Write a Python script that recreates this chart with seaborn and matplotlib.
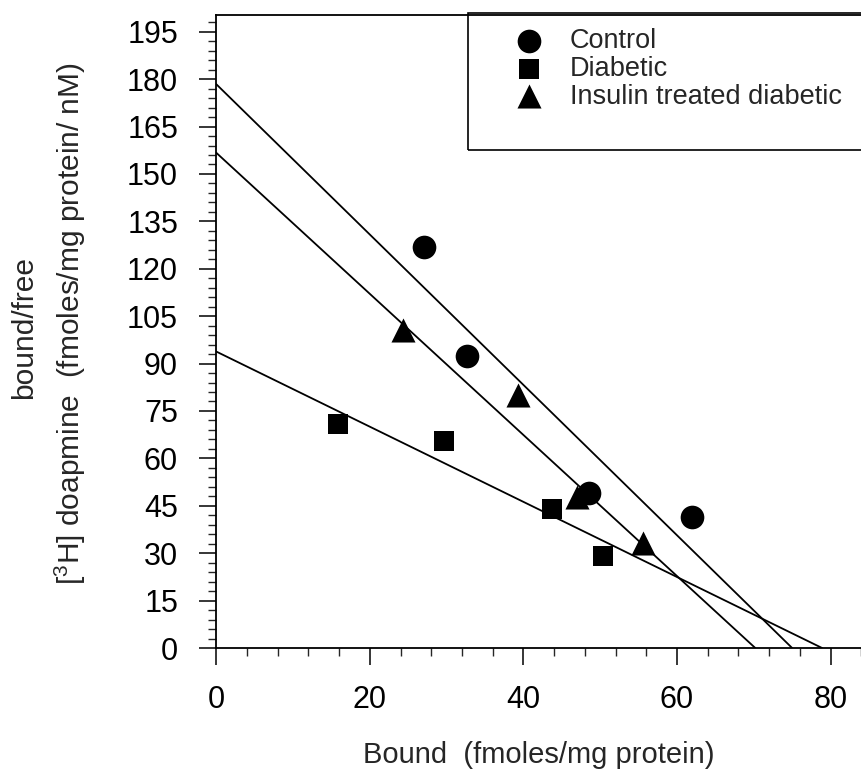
# Grafic Scatchard: legarea [3H] dopaminei la grupurile control / diabetic / diabetic tratat cu insulina
import seaborn as sns
import matplotlib.pyplot as plt
from matplotlib.ticker import MultipleLocator
from matplotlib.patches import Rectangle

# grupurile si markerele lor
grupe = ['Control', 'Diabetic', 'Insulin treated diabetic']
markere = ['o', 's', '^']
marimi = [290, 205, 300]

# punctele (Bound, bound/free)
control_x = [27.1, 32.7, 48.5, 61.9]
control_y = [126.9, 92.5, 48.9, 41.5]
diabetic_x = [15.8, 29.6, 43.7, 50.4]
diabetic_y = [70.8, 65.5, 43.9, 29.1]
insulin_x = [24.3, 39.3, 47.0, 55.6]
insulin_y = [100.5, 80.1, 47.9, 33.3]

# dreptele de regresie: intersectia cu axa y (B/F) si cu axa x (Bmax)
intercept_y = [178.4, 93.8, 156.7]
intercept_x = [75.0, 78.9, 70.2]

sns.set_style('ticks')
plt.rcParams['font.family'] = ['Liberation Sans', 'DejaVu Sans']
plt.rcParams['mathtext.fontset'] = 'custom'
plt.rcParams['mathtext.rm'] = 'Liberation Sans'
plt.rcParams['mathtext.it'] = 'Liberation Sans'
plt.rcParams['mathtext.default'] = 'regular'

fig = plt.figure(figsize=(8.62, 7.76), dpi=100)
ax = fig.add_axes([216.3 / 862, 1 - 648 / 776, (862 - 216.3) / 862, (648 - 15) / 776])

# dreptele
for yi, xi in zip(intercept_y, intercept_x):
    sns.lineplot(x=[0, xi], y=[yi, 0], color='black', linewidth=1.3, ax=ax, zorder=2)

# punctele
date_x = [control_x, diabetic_x, insulin_x]
date_y = [control_y, diabetic_y, insulin_y]
for g, m, s, xs, ys in zip(grupe, markere, marimi, date_x, date_y):
    sns.scatterplot(x=xs, y=ys, marker=m, s=s, color='black', edgecolor='black',
                    linewidth=0, label=g, ax=ax, zorder=3)

ax.set_xlim(0, 84.1)
ax.set_ylim(0, 200.3)
ax.xaxis.set_major_locator(MultipleLocator(20))
ax.xaxis.set_minor_locator(MultipleLocator(4))
ax.yaxis.set_major_locator(MultipleLocator(15))
ax.yaxis.set_minor_locator(MultipleLocator(3))
ax.set_yticks(range(0, 196, 15))
ax.tick_params(which='major', direction='out', length=12.5, width=1.1, labelsize=22,
               colors='black')
ax.tick_params(axis='x', which='major', pad=14)
ax.tick_params(axis='y', which='major', pad=15)
ax.tick_params(which='minor', direction='out', length=5.8, width=1.0)
ax.spines['right'].set_visible(False)
for sp in ['left', 'bottom', 'top']:
    ax.spines[sp].set_linewidth(1.3)
    ax.spines[sp].set_color('black')
ax.set_xlabel('')
ax.set_ylabel('')

# legenda fara cadru + dreptunghi desenat separat
leg = ax.legend(loc='upper left', bbox_to_anchor=(507.3 / 862, 1 - 28.3 / 776),
                bbox_transform=fig.transFigure, frameon=False, fontsize=19.5,
                handlelength=1.6, handletextpad=0.71, labelspacing=0.06,
                borderpad=0, borderaxespad=0)
fig.add_artist(Rectangle((468 / 862, 1 - 150 / 776), 0.6, (150 - 13) / 776,
                         transform=fig.transFigure, fill=False, edgecolor='black',
                         linewidth=1.2))

# etichetele axelor
fig.text(539 / 862, 1 - 763 / 776, 'Bound  (fmoles/mg protein)', ha='center',
         va='baseline', fontsize=21)
fig.text(24 / 862, 1 - 327 / 776, 'bound/free', rotation=90, ha='center', va='center',
         fontsize=21.5)
fig.text(70.5 / 862, 1 - 324 / 776, '[$^3$H] doapmine  (fmoles/mg protein/ nM)',
         rotation=90, ha='center', va='center', fontsize=21.5)

plt.savefig('out.png', dpi=100)
